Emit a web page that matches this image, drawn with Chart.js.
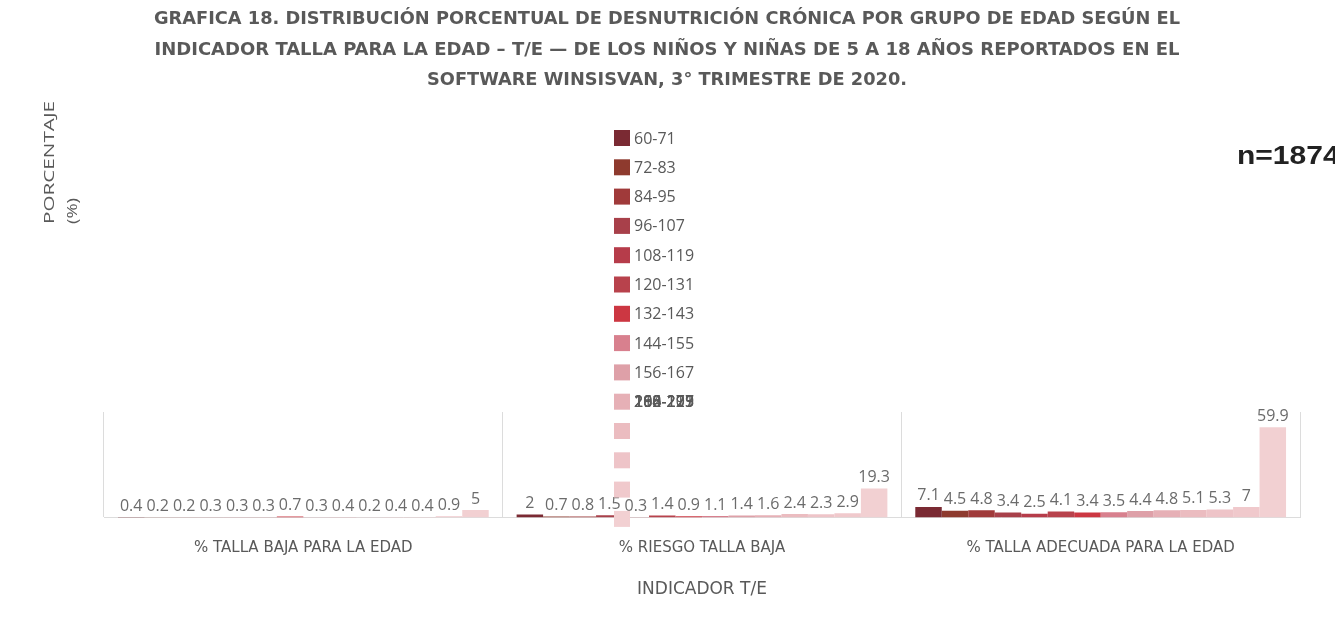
<!DOCTYPE html>
<html>
<head>
<meta charset="utf-8">
<script src="https://cdn.jsdelivr.net/npm/chart.js@4"></script>
<style>
  body { margin: 0; background: #fff; }
  canvas { display: block; }
</style>
</head>
<body>
<canvas id="chart" width="1335" height="620"></canvas>
<script>
// Grafica 18 - desnutricion cronica T/E

const categories = ['% TALLA BAJA PARA LA EDAD', '% RIESGO TALLA BAJA', '% TALLA ADECUADA PARA LA EDAD'];
const ageGroups = ['60-71', '72-83', '84-95', '96-107', '108-119', '120-131', '132-143',
    '144-155', '156-167', '168-179', '180-191', '192-203', '204-215', '216-227'];
const tallaBaja = [0.4, 0.2, 0.2, 0.3, 0.3, 0.3, 0.7, 0.3, 0.4, 0.2, 0.4, 0.4, 0.9, 5];
const riesgoTallaBaja = [2, 0.7, 0.8, 1.5, 0.3, 1.4, 0.9, 1.1, 1.4, 1.6, 2.4, 2.3, 2.9, 19.3];
const tallaAdecuada = [7.1, 4.5, 4.8, 3.4, 2.5, 4.1, 3.4, 3.5, 4.4, 4.8, 5.1, 5.3, 7, 59.9];
const colors = ['#7a2a33', '#8e3a2e', '#a03a3a', '#a8404a', '#b63c4a', '#b8424c', '#cc3742',
    '#d8808e', '#dea0a8', '#e6b0b6', '#ebbcc0', '#eec4c8', '#f0c9cc', '#f2d0d2'];

const titleLines = [
    'GRAFICA 18. DISTRIBUCIÓN PORCENTUAL DE DESNUTRICIÓN CRÓNICA POR GRUPO DE EDAD SEGÚN EL',
    'INDICADOR TALLA PARA LA EDAD – T/E — DE LOS NIÑOS Y NIÑAS DE 5 A 18 AÑOS REPORTADOS EN EL',
    'SOFTWARE WINSISVAN, 3° TRIMESTRE DE 2020.'
];

const gray = '#595959';

const datasets = ageGroups.map((g, i) => ({
    label: g,
    data: [tallaBaja[i], riesgoTallaBaja[i], tallaAdecuada[i]],
    backgroundColor: colors[i],
    borderWidth: 0,
    categoryPercentage: 0.93,
    barPercentage: 1
}));

// draw text stretched to a given width
function stretchText(ctx, text, x, y, width) {
    const w = ctx.measureText(text).width;
    ctx.save();
    ctx.translate(x, y);
    ctx.scale(width / w, 1);
    ctx.fillText(text, 0, 0);
    ctx.restore();
}

// value labels on top of each bar
const valueLabels = {
    id: 'valueLabels',
    afterDatasetsDraw(chart) {
        const ctx = chart.ctx;
        ctx.save();
        ctx.font = '16px "Open Sans", sans-serif';
        ctx.fillStyle = '#6b6b6b';
        ctx.textAlign = 'center';
        ctx.textBaseline = 'bottom';
        chart.data.datasets.forEach((ds, i) => {
            chart.getDatasetMeta(i).data.forEach((bar, j) => {
                ctx.fillText(String(ds.data[j]), bar.x, bar.y - 3);
            });
        });
        ctx.restore();
    }
};

// title, axis title, n and the legend column in the middle
const decorations = {
    id: 'decorations',
    afterDraw(chart) {
        const ctx = chart.ctx;
        ctx.save();

        ctx.fillStyle = gray;
        ctx.textAlign = 'center';
        ctx.textBaseline = 'middle';
        ctx.font = 'bold 17px "Liberation Sans Narrow", "DejaVu Sans Condensed", sans-serif';
        const widths = [1026, 1025, 480];
        const ys = [20, 51, 81];
        titleLines.forEach((t, i) => stretchText(ctx, t, 667, ys[i], widths[i]));

        // y axis title
        ctx.save();
        ctx.translate(50, 224);
        ctx.rotate(-Math.PI / 2);
        ctx.textAlign = 'left';
        ctx.font = '15px "Open Sans", sans-serif';
        stretchText(ctx, 'PORCENTAJE', 0, 0, 123);
        stretchText(ctx, '(%)', 0, 23, 26);
        ctx.restore();

        // n
        ctx.save();
        ctx.fillStyle = '#222';
        ctx.textAlign = 'left';
        ctx.font = 'bold 25px "Liberation Sans", Arial, sans-serif';
        ctx.translate(1237, 157);
        ctx.scale(1.2, 1);
        ctx.fillText('n=1874', 0, 0);
        ctx.restore();

        // legend
        ctx.textAlign = 'left';
        ctx.font = '16px "Open Sans", sans-serif';
        ageGroups.forEach((g, i) => {
            const y = 138 + i * 29.3;
            ctx.fillStyle = colors[i];
            ctx.fillRect(614, y - 8, 16, 16);
            if (i < 9) {
                ctx.fillStyle = gray;
                ctx.fillText(g, 634, y + 1);
            }
        });
        // remaining labels end up stacked on the tenth row
        ctx.fillStyle = gray;
        for (let i = 9; i < ageGroups.length; i++) {
            ctx.fillText(ageGroups[i], 634, 138 + 9 * 29.3 + 1);
        }

        ctx.restore();
    }
};

new Chart(document.getElementById('chart'), {
    type: 'bar',
    data: { labels: categories, datasets: datasets },
    options: {
        responsive: false,
        animation: false,
        layout: { padding: { left: 104, right: 35, top: 412, bottom: 16 } },
        plugins: {
            legend: { display: false },
            title: { display: false },
            tooltip: { enabled: false }
        },
        scales: {
            y: { display: false, min: 0, max: 70 },
            x: {
                grid: { color: '#dcdcdc', drawTicks: false },
                border: { color: '#dcdcdc' },
                ticks: { color: gray, padding: 22, font: { size: 15, family: '"DejaVu Sans", sans-serif' } },
                title: {
                    display: true,
                    text: 'INDICADOR T/E',
                    color: gray,
                    padding: { top: 0, bottom: 4 },
                    font: { size: 17, family: '"DejaVu Sans", sans-serif' }
                }
            }
        }
    },
    plugins: [valueLabels, decorations]
});
</script>
</body>
</html>
